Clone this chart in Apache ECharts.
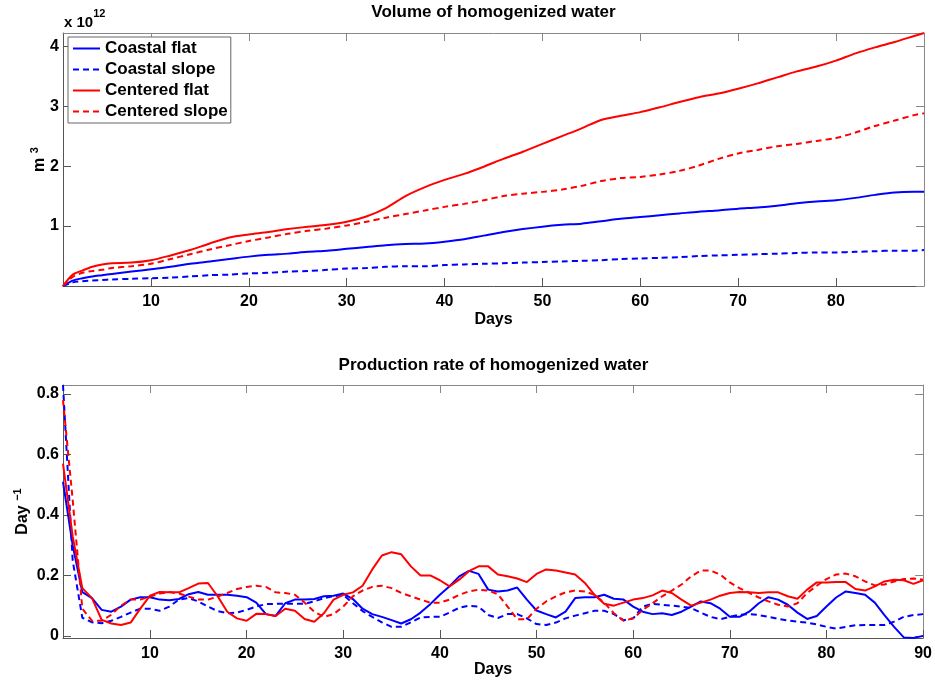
<!DOCTYPE html>
<html>
<head>
<meta charset="utf-8">
<script src="https://cdn.jsdelivr.net/npm/echarts@6/dist/echarts.min.js"></script>
<style>
html,body{margin:0;padding:0;background:#fff;}
#chart{width:935px;height:683px;}
</style>
</head>
<body>
<div id="chart"></div>
<script>
// ---------- Data (top panel: volume, units of 10^12 m^3) ----------
const topDays = [1,2,3,4,5,6,8,10,12,14,16,18,20,22,24,26,28,30,32,34,36,38,40,42,44,46,48,50,52,54,56,58,60,62,64,66,68,70,72,74,76,78,80,82,84,86,88,89];
const volCoastalFlat = [0,0.09,0.13,0.16,0.18,0.20,0.24,0.28,0.32,0.37,0.41,0.45,0.49,0.52,0.54,0.57,0.59,0.62,0.65,0.68,0.70,0.71,0.74,0.78,0.84,0.90,0.95,0.99,1.02,1.04,1.08,1.12,1.15,1.18,1.21,1.24,1.26,1.29,1.31,1.34,1.38,1.41,1.43,1.47,1.52,1.56,1.57,1.57];
const volCoastalSlope = [0,0.06,0.08,0.09,0.10,0.11,0.12,0.13,0.14,0.16,0.18,0.19,0.21,0.22,0.24,0.25,0.27,0.29,0.30,0.32,0.33,0.33,0.35,0.36,0.37,0.38,0.39,0.40,0.41,0.42,0.43,0.45,0.46,0.47,0.48,0.50,0.51,0.52,0.53,0.54,0.55,0.56,0.56,0.57,0.58,0.59,0.59,0.60];
const volCenteredFlat = [0,0.19,0.26,0.32,0.36,0.38,0.39,0.43,0.51,0.60,0.71,0.81,0.86,0.90,0.95,0.99,1.02,1.07,1.16,1.30,1.50,1.65,1.77,1.87,1.99,2.12,2.24,2.37,2.50,2.63,2.77,2.84,2.90,2.98,3.07,3.15,3.21,3.29,3.38,3.48,3.58,3.66,3.76,3.88,3.98,4.07,4.17,4.22];
const volCenteredSlope = [0,0.15,0.22,0.25,0.27,0.30,0.33,0.37,0.45,0.53,0.61,0.68,0.75,0.81,0.87,0.92,0.96,1.01,1.07,1.14,1.20,1.26,1.32,1.37,1.43,1.50,1.54,1.57,1.61,1.67,1.75,1.80,1.82,1.86,1.92,2.01,2.12,2.21,2.27,2.33,2.37,2.42,2.47,2.56,2.67,2.76,2.85,2.88];

// ---------- Data (bottom panel: production rate, day^-1) ----------
const rateDays = [1,2,3,4,5,6,7,8,9,10,11,12,13,14,15,16,17,18,19,20,21,22,23,24,25,26,27,28,29,30,31,32,33,34,35,36,37,38,39,40,41,42,43,44,45,46,47,48,49,50,51,52,53,54,55,56,57,58,59,60,61,62,63,64,65,66,67,68,69,70,71,72,73,74,75,76,77,78,79,80,81,82,83,84,85,86,87,88,89,90];
const rateCoastalFlat = [0.51,0.3,0.145,0.125,0.086,0.08,0.097,0.12,0.128,0.128,
0.12,0.118,0.122,0.138,0.145,0.136,0.136,0.136,0.133,0.128,
0.11,0.072,0.066,0.108,0.12,0.12,0.122,0.131,0.133,0.14,
0.122,0.09,0.072,0.063,0.052,0.041,0.055,0.077,0.105,0.136,
0.164,0.197,0.215,0.205,0.153,0.147,0.15,0.16,0.12,0.084,
0.072,0.061,0.08,0.125,0.128,0.128,0.136,0.123,0.12,0.097,
0.08,0.072,0.075,0.069,0.08,0.097,0.114,0.108,0.09,0.063,
0.063,0.08,0.108,0.128,0.12,0.103,0.077,0.056,0.066,0.097,
0.127,0.147,0.142,0.136,0.11,0.069,0.03,-0.005,-0.007,0.0];
const rateCoastalSlope = [0.83,0.25,0.06,0.045,0.042,0.05,0.063,0.077,0.09,0.09,
0.083,0.097,0.12,0.125,0.114,0.097,0.082,0.075,0.077,0.086,
0.097,0.105,0.106,0.106,0.106,0.106,0.114,0.125,0.131,0.136,
0.108,0.082,0.063,0.045,0.03,0.03,0.045,0.061,0.063,0.063,
0.077,0.093,0.1,0.097,0.069,0.059,0.072,0.072,0.058,0.039,
0.036,0.044,0.058,0.067,0.075,0.083,0.083,0.072,0.052,0.058,
0.097,0.106,0.103,0.1,0.097,0.092,0.077,0.063,0.055,0.063,
0.07,0.072,0.069,0.063,0.056,0.051,0.047,0.044,0.038,0.03,
0.024,0.03,0.035,0.036,0.036,0.036,0.047,0.063,0.069,0.072];
const rateCenteredFlat = [0.57,0.33,0.158,0.125,0.053,0.041,0.036,0.044,0.09,0.133,
0.145,0.144,0.144,0.158,0.173,0.175,0.131,0.08,0.058,0.05,
0.073,0.072,0.066,0.09,0.083,0.056,0.047,0.075,0.12,0.136,
0.144,0.166,0.22,0.266,0.277,0.27,0.23,0.2,0.2,0.184,
0.164,0.186,0.214,0.23,0.23,0.203,0.197,0.19,0.178,0.205,
0.22,0.216,0.21,0.203,0.175,0.136,0.106,0.1,0.11,0.12,
0.125,0.134,0.15,0.142,0.12,0.1,0.11,0.12,0.133,0.142,
0.145,0.144,0.142,0.144,0.144,0.131,0.123,0.153,0.177,0.177,
0.178,0.178,0.155,0.15,0.164,0.18,0.186,0.184,0.172,0.184];
const rateCenteredSlope = [0.78,0.45,0.09,0.05,0.05,0.07,0.1,0.12,0.12,0.13,
0.14,0.145,0.14,0.13,0.12,0.12,0.13,0.142,0.155,0.162,
0.166,0.162,0.144,0.142,0.136,0.11,0.08,0.063,0.072,0.097,
0.131,0.15,0.162,0.166,0.158,0.142,0.131,0.12,0.11,0.11,
0.12,0.136,0.147,0.153,0.15,0.138,0.097,0.055,0.055,0.09,
0.114,0.131,0.144,0.15,0.147,0.136,0.11,0.075,0.05,0.058,
0.086,0.108,0.131,0.15,0.17,0.197,0.216,0.216,0.203,0.177,
0.158,0.142,0.127,0.114,0.103,0.097,0.108,0.142,0.166,0.188,
0.203,0.206,0.197,0.18,0.167,0.17,0.18,0.188,0.19,0.186];

// ---------- Labels / ticks ----------
const seriesNames = ['Coastal flat','Coastal slope','Centered flat','Centered slope'];
const topXTicks = [10,20,30,40,50,60,70,80];
const topYTicks = [1,2,3,4];
const botXTicks = [10,20,30,40,50,60,70,80,90];
const botYTicks = [0,0.2,0.4,0.6,0.8];

// ---------- Chart ----------
const FONT = "'Liberation Sans', Arial, Helvetica, sans-serif";
const AX = '#555';
const chart = echarts.init(document.getElementById('chart'), null, {renderer:'canvas'});

function pairs(xs, ys){ return xs.map((x,i)=>[x, ys[i]]); }

function mainX(gridIndex, min, max, ticks, nameGap){
  return {
    type:'value', gridIndex, min, max, position:'bottom',
    name:'Days', nameLocation:'middle', nameGap, nameMoveOverlap:false,
    nameTextStyle:{fontFamily:FONT, fontSize:16, fontWeight:'bold', color:'#000'},
    axisLine:{show:true, onZero:false, lineStyle:{color:AX, width:1}},
    axisTick:{show:true, inside:true, length:8, customValues:ticks, lineStyle:{color:AX}},
    axisLabel:{show:true, customValues:ticks, margin:8, fontFamily:FONT, fontSize:16, fontWeight:'bold', color:'#000'},
    splitLine:{show:false}
  };
}
function frameX(gridIndex, min, max, ticks){
  return {
    type:'value', gridIndex, min, max, position:'top',
    axisLine:{show:true, onZero:false, lineStyle:{color:'#888', width:1}},
    axisTick:{show:true, inside:true, length:8, customValues:ticks, lineStyle:{color:'#888'}},
    axisLabel:{show:false}, splitLine:{show:false}
  };
}
function mainY(gridIndex, min, max, ticks, labelTicks, name, rich, nameGap){
  return {
    type:'value', gridIndex, min, max, position:'left',
    name, nameLocation:'middle', nameRotate:90, nameGap, nameMoveOverlap:false,
    nameTextStyle:{fontFamily:FONT, fontSize:16, fontWeight:'bold', color:'#000', rich},
    axisLine:{show:true, onZero:false, lineStyle:{color:AX, width:1}},
    axisTick:{show:true, inside:true, length:8, customValues:ticks, lineStyle:{color:AX}},
    axisLabel:{show:true, customValues:labelTicks, margin:4, fontFamily:FONT, fontSize:16, fontWeight:'bold', color:'#000'},
    splitLine:{show:false}
  };
}
function frameY(gridIndex, min, max, ticks){
  return {
    type:'value', gridIndex, min, max, position:'right',
    axisLine:{show:true, onZero:false, lineStyle:{color:'#888', width:1}},
    axisTick:{show:true, inside:true, length:8, customValues:ticks, lineStyle:{color:'#888'}},
    axisLabel:{show:false}, splitLine:{show:false}
  };
}

const supRich = {
  m:{fontFamily:FONT, fontSize:16, fontWeight:'bold', color:'#000', lineHeight:22, verticalAlign:'middle'},
  s:{fontFamily:FONT, fontSize:11, fontWeight:'bold', color:'#000', verticalAlign:'top', lineHeight:12}
};

const colors = ['#0000ff','#0000ff','#ff0000','#ff0000'];
const dashes = ['solid',[6,4],'solid',[6,4]];
const topVals = [volCoastalFlat, volCoastalSlope, volCenteredFlat, volCenteredSlope];
const botVals = [rateCoastalFlat, rateCoastalSlope, rateCenteredFlat, rateCenteredSlope];

const series = [];
seriesNames.forEach((nm,i)=>{
  series.push({
    name:nm, type:'line', xAxisIndex:0, yAxisIndex:0, data:pairs(topDays, topVals[i]),
    symbol:'none', smooth:0.3, animation:false,
    lineStyle:{color:colors[i], width:2, type:dashes[i]}, itemStyle:{color:colors[i]}
  });
});
seriesNames.forEach((nm,i)=>{
  series.push({
    name:nm, type:'line', xAxisIndex:2, yAxisIndex:2, data:pairs(rateDays, botVals[i]),
    symbol:'none', smooth:false, animation:false,
    lineStyle:{color:colors[i], width:2, type:dashes[i]}, itemStyle:{color:colors[i]}
  });
});

const option = {
  animation:false,
  backgroundColor:'#fff',
  grid:[
    {left:63, top:33, width:861, height:253, containLabel:false},
    {left:63, top:385, width:861, height:253, containLabel:false}
  ],
  xAxis:[
    mainX(0, 1, 89, topXTicks, 26),
    frameX(0, 1, 89, topXTicks),
    mainX(1, 1, 90, botXTicks, 24),
    frameX(1, 1, 90, botXTicks)
  ],
  yAxis:[
    mainY(0, 0, 4.22, [0,1,2,3,4], topYTicks, '{m|m }{s|3}', supRich, 12),
    frameY(0, 0, 4.22, [0,1,2,3,4]),
    mainY(1, -0.007, 0.83, botYTicks, botYTicks, '{m|Day }{s|\u22121}', supRich, 29),
    frameY(1, -0.007, 0.83, botYTicks)
  ],
  legend:{
    show:true, data:seriesNames, orient:'vertical', left:68, top:37,
    backgroundColor:'#fff', borderColor:'#666', borderWidth:1, padding:[3,3,3,4],
    itemWidth:27, itemHeight:14, itemGap:4,
    itemStyle:{opacity:0},
    textStyle:{fontFamily:FONT, fontSize:17, fontWeight:'bold', color:'#000'}
  },
  graphic:[
    {type:'text', x:493.5, y:12, style:{text:'Volume of homogenized water', font:"bold 17px "+FONT, fill:'#000', align:'center', verticalAlign:'middle'}},
    {type:'text', x:493.5, y:365, style:{text:'Production rate of homogenized water', font:"bold 17px "+FONT, fill:'#000', align:'center', verticalAlign:'middle'}},
    {type:'text', x:64, y:8, style:{text:'{a|x 10}{b|12}', fill:'#000', rich:{
      a:{fontFamily:FONT, fontSize:15, fontWeight:'bold', color:'#000', lineHeight:22, verticalAlign:'bottom'},
      b:{fontFamily:FONT, fontSize:11, fontWeight:'bold', color:'#000', verticalAlign:'top', lineHeight:12}
    }}}
  ],
  series
};
chart.setOption(option);
</script>
</body>
</html>
